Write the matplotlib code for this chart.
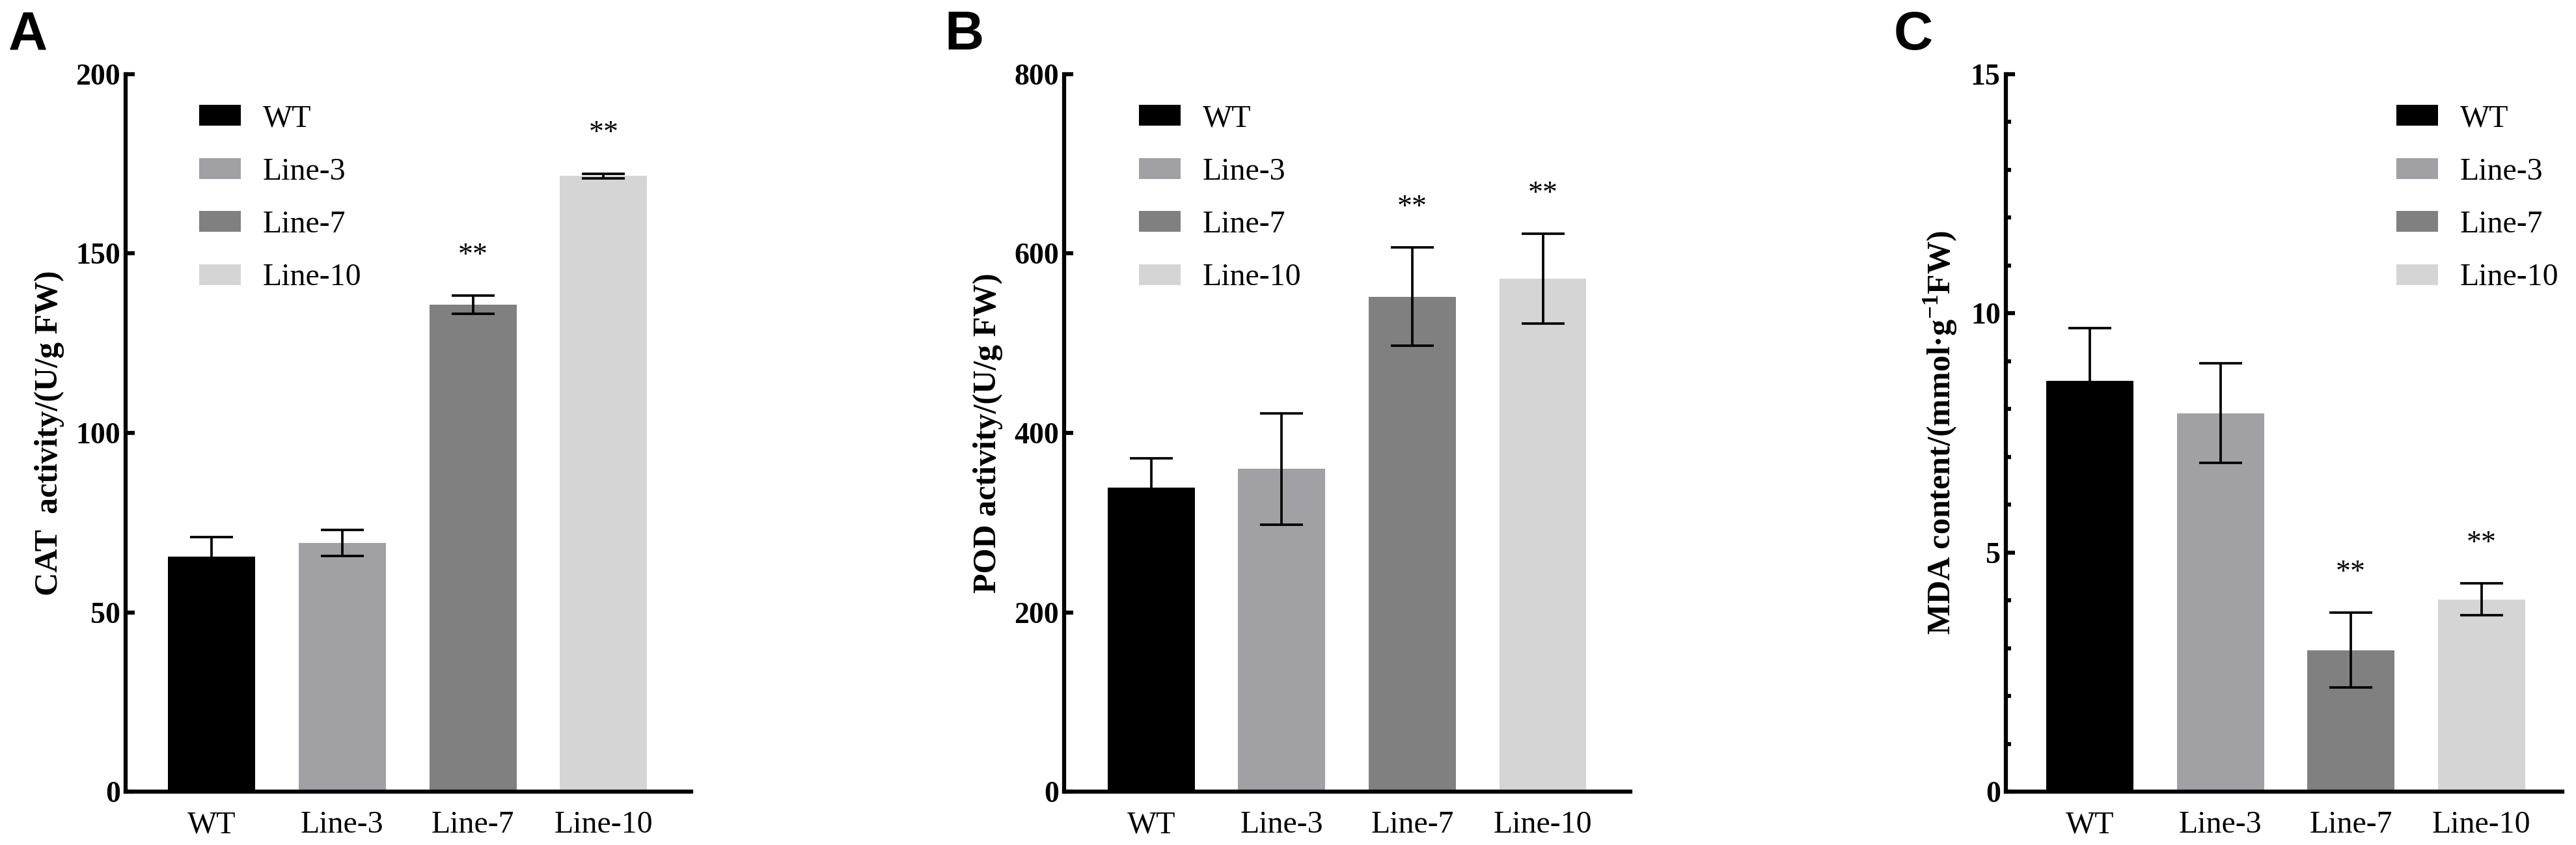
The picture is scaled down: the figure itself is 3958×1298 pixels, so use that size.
import numpy as np
import matplotlib
matplotlib.use("Agg")
import matplotlib.pyplot as plt
from matplotlib.patches import Patch
from matplotlib.ticker import MultipleLocator

plt.rcParams['font.family'] = ['Liberation Serif', 'DejaVu Serif']
plt.rcParams['mathtext.fontset'] = 'custom'
plt.rcParams['mathtext.rm'] = 'Liberation Serif:bold'
plt.rcParams['mathtext.bf'] = 'Liberation Serif:bold'

categories = ["WT", "Line-3", "Line-7", "Line-10"]
colors = ["#000000", "#a1a1a5", "#808080", "#d5d5d5"]

cat_mean = [65.5, 69.3, 135.8, 171.6]
cat_err = [5.4, 3.6, 2.5, 0.7]
pod_mean = [339, 360, 552, 572]
pod_err = [33, 62, 55, 50]
mda_mean = [8.59, 7.91, 2.96, 4.02]
mda_err = [1.10, 1.04, 0.78, 0.33]

sig_cat = ["", "", "**", "**"]
sig_pod = ["", "", "**", "**"]
sig_mda = ["", "", "**", "**"]

panels = [
    dict(mean=cat_mean, err=cat_err, sig=sig_cat, ylim=(0, 200), yticks=[0, 50, 100, 150, 200],
         ylabel="CAT  activity/(U/g FW)", minor=None, letter="A",
         rect=[193/3958, 1-1216/1298, 869/3958, 1102/1298], xlim=(-0.657, 3.67),
         leg=(0.13, 0.958), lx=13),
    dict(mean=pod_mean, err=pod_err, sig=sig_pod, ylim=(0, 800), yticks=[0, 200, 400, 600, 800],
         ylabel="POD activity/(U/g FW)", minor=None, letter="B",
         rect=[1635/3958, 1-1216/1298, 870/3958, 1102/1298], xlim=(-0.667, 3.67),
         leg=(0.132, 0.958), lx=1451),
    dict(mean=mda_mean, err=mda_err, sig=sig_mda, ylim=(0, 15), yticks=[0, 5, 10, 15],
         ylabel=r"MDA content/(mmol·g$^{\mathbf{-1}}$FW)", minor=1, letter="C",
         rect=[3082/3958, 1-1216/1298, 855/3958, 1102/1298], xlim=(-0.645, 3.62),
         leg=(0.702, 0.958), lx=2910),
]

fig = plt.figure(figsize=(3958/300, 1298/300), dpi=300)
x = np.arange(len(categories))

for p in panels:
    ax = fig.add_axes(p["rect"])
    ax.bar(x, p["mean"], width=0.667, color=colors, edgecolor='none', zorder=2)
    ax.errorbar(x, p["mean"], yerr=p["err"], fmt='none', ecolor='black',
                elinewidth=0.9, capsize=8, capthick=0.9, zorder=3)
    for xi, m, e, s in zip(x, p["mean"], p["err"], p["sig"]):
        if s:
            ax.annotate(s, (xi, m + e), xytext=(0, 11.8), textcoords='offset points',
                        ha='center', va='baseline', fontsize=11)
    ax.set_xlim(*p["xlim"])
    ax.set_ylim(*p["ylim"])
    ax.set_yticks(p["yticks"])
    ax.set_yticklabels([str(t) for t in p["yticks"]], fontweight='bold', fontsize=11)
    if p["minor"]:
        ax.yaxis.set_minor_locator(MultipleLocator(p["minor"]))
        ax.tick_params(axis='y', which='minor', direction='in', length=1.8, width=1.5)
    ax.set_xticks(x)
    ax.set_xticklabels(categories, fontsize=11.5)
    ax.tick_params(axis='y', which='major', direction='in', length=3.4, width=1.5, pad=2)
    ax.tick_params(axis='x', which='major', direction='in', length=3.4, width=1.5, pad=7)
    for sp in ['top', 'right']:
        ax.spines[sp].set_visible(False)
    for sp in ['left', 'bottom']:
        ax.spines[sp].set_linewidth(1.5)
    ax.set_ylabel(p["ylabel"], fontweight='bold', fontsize=12, labelpad=4)
    handles = [Patch(facecolor=c, edgecolor='none') for c in colors]
    ax.legend(handles, categories, loc='upper left', bbox_to_anchor=p["leg"],
              frameon=False, fontsize=11.5, handlelength=1.34, handleheight=0.65,
              handletextpad=0.7, labelspacing=0.78, borderpad=0, borderaxespad=0)
    fig.text(p["lx"]/3958, 1-76/1298, p["letter"], fontsize=20, fontweight='bold',
             family='Liberation Sans', ha='left', va='baseline')

fig.savefig("out.png", dpi=300)
